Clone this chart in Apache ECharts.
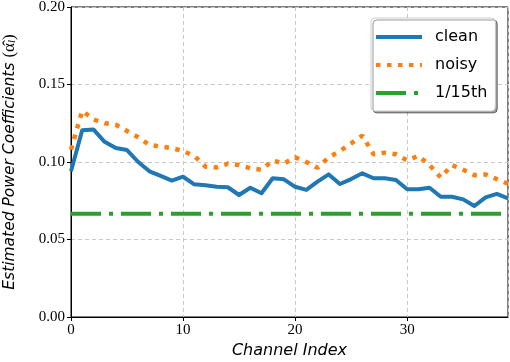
<!DOCTYPE html>
<html>
<head>
<meta charset="utf-8">
<script src="https://cdn.jsdelivr.net/npm/echarts@6/dist/echarts.min.js"></script>
<style>
html,body{margin:0;padding:0;background:#fff;}
#c{width:510px;height:362px;}
</style>
</head>
<body>
<div id="c"></div>
<script>
const channels = Array.from({length: 40}, (_, i) => i);
const clean = [0.094, 0.1205, 0.121, 0.113, 0.109, 0.1077, 0.100, 0.094, 0.091, 0.088,
  0.0905, 0.0856, 0.085, 0.084, 0.0837, 0.0787, 0.0834, 0.0798, 0.0895, 0.0888,
  0.084, 0.082, 0.0873, 0.092, 0.0858, 0.089, 0.0927, 0.0895, 0.0895, 0.0884,
  0.0824, 0.0824, 0.0834, 0.0776, 0.0776, 0.0759, 0.0716, 0.0772, 0.0794, 0.0766];
const noisy = [0.108, 0.133, 0.1275, 0.125, 0.124, 0.120, 0.116, 0.111, 0.110, 0.109,
  0.107, 0.104, 0.097, 0.0965, 0.099, 0.098, 0.096, 0.095, 0.101, 0.099,
  0.103, 0.100, 0.0963, 0.103, 0.107, 0.112, 0.117, 0.105, 0.106, 0.105,
  0.101, 0.104, 0.098, 0.090, 0.098, 0.095, 0.0915, 0.092, 0.089, 0.086];
const uniformLevel = 1 / 15;
const xTicks = [0, 10, 20, 30];
const yTicks = ['0.00', '0.05', '0.10', '0.15', '0.20'];

const chart = echarts.init(document.getElementById('c'), null, {renderer: 'canvas'});
const serif = 'Liberation Serif';
const sans = 'DejaVu Sans';
chart.setOption({
  animation: false,
  grid: {left: 71, right: 2, top: 7, bottom: 45, show: true, borderColor: '#000', borderWidth: 1,
    containLabel: false, outerBoundsMode: 'none'},
  xAxis: {
    type: 'value', min: 0, max: 39, interval: 10,
    axisLine: {show: true, onZero: false, lineStyle: {color: '#000', width: 1}},
    axisTick: {show: true, inside: false, length: 4, lineStyle: {color: '#000'}},
    axisLabel: {color: '#000', fontFamily: serif, fontSize: 15, margin: 6, showMaxLabel: false,
      formatter: v => xTicks.includes(v) ? String(v) : ''},
    splitLine: {show: true, lineStyle: {color: '#c8c8c8', type: [4, 3], width: 1}},
    name: 'Channel Index', nameLocation: 'middle', nameGap: 26,
    nameTextStyle: {color: '#000', fontFamily: sans, fontStyle: 'italic', fontSize: 16}
  },
  yAxis: {
    type: 'value', min: 0, max: 0.2, interval: 0.05,
    axisLine: {show: true, onZero: false, lineStyle: {color: '#000', width: 1}},
    axisTick: {show: true, inside: false, length: 4, lineStyle: {color: '#000'}},
    axisLabel: {color: '#000', fontFamily: serif, fontSize: 15, margin: 6,
      formatter: v => yTicks[Math.round(v / 0.05)]},
    splitLine: {show: true, lineStyle: {color: '#c8c8c8', type: [4, 3], width: 1}},
    name: '{t|Estimated Power Coefficients }{m|(α̂}{s|l}{m|)}', nameLocation: 'middle', nameGap: 53,
    nameTextStyle: {
      color: '#000',
      rich: {
        t: {fontFamily: sans, fontStyle: 'italic', fontSize: 15.5, color: '#000'},
        m: {fontFamily: serif, fontSize: 17, color: '#000'},
        s: {fontFamily: serif, fontStyle: 'italic', fontSize: 11, color: '#000', verticalAlign: 'bottom', padding: [6, 0, 0, 0]}
      }
    }
  },
  legend: {
    orient: 'vertical', left: 371, top: 18, width: 127,
    padding: [11, 8, 10, 3],
    itemWidth: 46, itemHeight: 10, itemGap: 12,
    itemStyle: {opacity: 0},
    lineStyle: {width: 4},
    backgroundColor: '#fff', borderColor: '#cccccc', borderWidth: 1, borderRadius: 4,
    shadowBlur: 0, shadowColor: 'rgba(0,0,0,0.4)', shadowOffsetX: 2, shadowOffsetY: 2,
    textStyle: {fontFamily: sans, fontSize: 16, color: '#000', padding: [0, 0, 0, 8]},
    data: ['clean', 'noisy', '1/15th']
  },
  series: [
    {name: 'clean', type: 'line', data: channels.map(i => [i, clean[i]]), showSymbol: false, symbol: 'none',
      lineStyle: {color: '#1f77b4', width: 4, join: 'round'}, itemStyle: {color: '#1f77b4'}, z: 3},
    {name: 'noisy', type: 'line', data: channels.map(i => [i, noisy[i]]), showSymbol: false, symbol: 'none',
      lineStyle: {color: '#ff7f0e', width: 4.5, type: [4.5, 6.5], cap: 'butt'}, itemStyle: {color: '#ff7f0e'}, z: 4},
    {name: '1/15th', type: 'line', data: channels.map(i => [i, uniformLevel]), showSymbol: false, symbol: 'none',
      lineStyle: {color: '#2ca02c', width: 4, type: [30, 8, 4, 8], cap: 'butt'}, itemStyle: {color: '#2ca02c'}, z: 2}
  ]
});
</script>
</body>
</html>
